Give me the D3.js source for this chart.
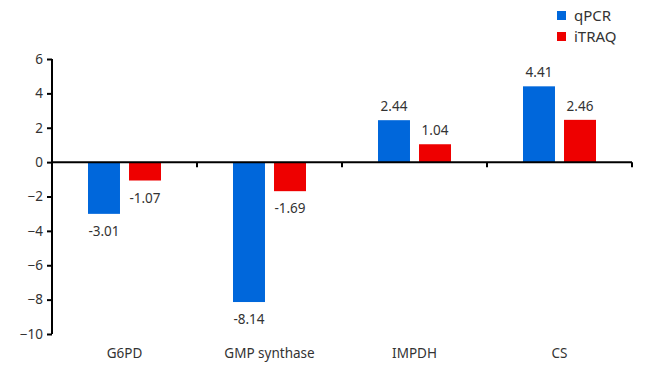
<!DOCTYPE html>
<html>
<head>
<meta charset="utf-8">
<script src="https://cdn.jsdelivr.net/npm/d3@7"></script>
<style>
  body { margin: 0; background: #fff; }
  svg text { font-family: "Noto Sans", "Open Sans", sans-serif; fill: #333; }
</style>
</head>
<body>
<div id="chart"></div>
<script>
const categories = ["G6PD", "GMP synthase", "IMPDH", "CS"];
const seriesNames = ["qPCR", "iTRAQ"];
const qpcr = [-3.01, -8.14, 2.44, 4.41];
const itraq = [-1.07, -1.69, 1.04, 2.46];
const yTicks = [6, 4, 2, 0, -2, -4, -6, -8, -10];

const colors = { qPCR: "#0067db", iTRAQ: "#ee0000" };

const width = 657, height = 371;
const margin = { left: 52, right: 25, top: 59, bottom: 37 };

const svg = d3.select("#chart").append("svg")
    .attr("width", width)
    .attr("height", height);

const x = d3.scaleBand()
    .domain(categories)
    .range([margin.left, width - margin.right]);

const inner = d3.scaleBand()
    .domain(seriesNames)
    .range([36, x.bandwidth() - 36])
    .paddingInner(0.22);

const y = d3.scaleLinear()
    .domain([-10, 6])
    .range([height - margin.bottom, margin.top]);

// y axis
svg.append("g")
    .attr("transform", "translate(" + margin.left + ",0)")
    .call(d3.axisLeft(y).tickValues(yTicks).tickSize(5).tickPadding(4).tickFormat(d3.format("d")))
    .call(g => g.selectAll("path, line").attr("stroke", "#000").attr("stroke-width", 2))
    .call(g => g.select(".domain").attr("d", "M0," + y(6) + "V" + y(-10)))
    .call(g => g.selectAll("text").style("font-size", "13.5px").attr("fill", "#333"));

const data = categories.map((c, i) => ({ cat: c, values: [
    { name: "qPCR", v: qpcr[i] },
    { name: "iTRAQ", v: itraq[i] }
]}));

const groups = svg.append("g").selectAll("g")
    .data(data)
    .enter().append("g")
    .attr("transform", d => "translate(" + x(d.cat) + ",0)");

groups.selectAll("rect")
    .data(d => d.values)
    .enter().append("rect")
    .attr("x", d => inner(d.name))
    .attr("width", inner.bandwidth())
    .attr("y", d => y(Math.max(0, d.v)))
    .attr("height", d => Math.abs(y(d.v) - y(0)))
    .attr("fill", d => colors[d.name]);

groups.selectAll("text.val")
    .data(d => d.values)
    .enter().append("text")
    .attr("class", "val")
    .attr("x", d => inner(d.name) + inner.bandwidth() / 2)
    .attr("y", d => d.v >= 0 ? y(d.v) - 9 : y(d.v) + 22)
    .attr("text-anchor", "middle")
    .style("font-size", "13.5px")
    .text(d => d.v.toFixed(2));

// zero axis with category ticks
const zero = svg.append("g")
    .attr("transform", "translate(0," + y(0) + ")");
zero.append("line")
    .attr("x1", margin.left).attr("x2", width - margin.right)
    .attr("stroke", "#000").attr("stroke-width", 2);
zero.selectAll("line.tk")
    .data(categories)
    .enter().append("line")
    .attr("class", "tk")
    .attr("x1", d => x(d) + x.bandwidth()).attr("x2", d => x(d) + x.bandwidth())
    .attr("y1", 0).attr("y2", 5)
    .attr("stroke", "#000").attr("stroke-width", 2);

// category labels
svg.append("g").selectAll("text")
    .data(categories)
    .enter().append("text")
    .attr("x", d => x(d) + x.bandwidth() / 2)
    .attr("y", 358)
    .attr("text-anchor", "middle")
    .style("font-size", "13.5px")
    .text(d => d);

// legend
const legend = svg.append("g").attr("transform", "translate(557,11)");
const items = legend.selectAll("g")
    .data(seriesNames)
    .enter().append("g")
    .attr("transform", (d, i) => "translate(0," + i * 21 + ")");
items.append("rect")
    .attr("width", 9).attr("height", 9)
    .attr("fill", d => colors[d]);
items.append("text")
    .attr("x", 17).attr("y", 9.5)
    .style("font-size", "15px")
    .text(d => d);
</script>
</body>
</html>
